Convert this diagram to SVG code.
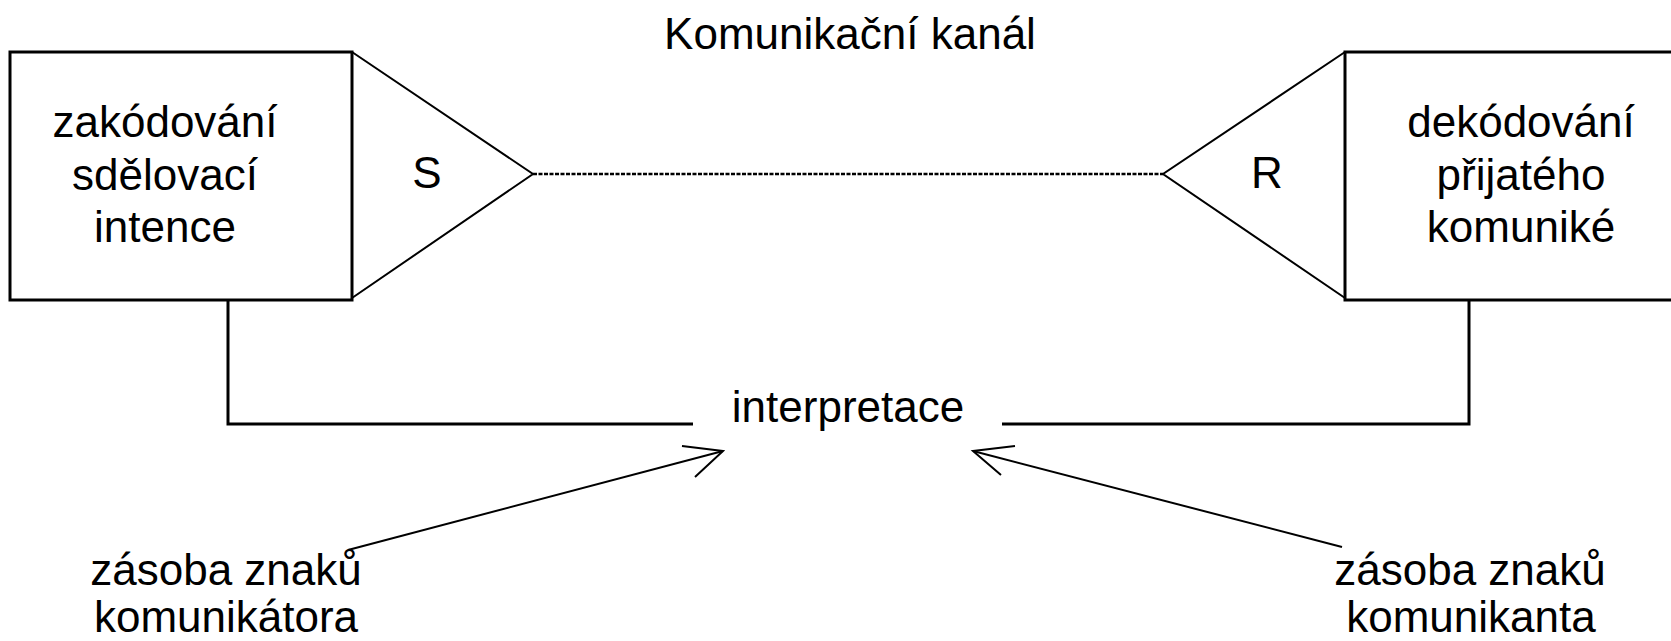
<svg xmlns="http://www.w3.org/2000/svg" width="1671" height="641" viewBox="0 0 1671 641">
<defs>
<style>
text{font-family:"Liberation Sans",Arial,sans-serif;font-size:44px;fill:#000;text-anchor:middle}
.box{fill:#fff;stroke:#000;stroke-width:3}
.thick{fill:none;stroke:#000;stroke-width:3}
.thin{fill:none;stroke:#000;stroke-width:2}
.chan{fill:none;stroke:#000;stroke-width:2.5;stroke-dasharray:4 1.5}
</style>
</defs>
<rect width="1671" height="641" fill="#fff"/>
<text x="850" y="49">Komunikační kanál</text>
<g id="connectors">
<line class="chan" x1="533" y1="174" x2="1163" y2="174"/>
<polyline class="thick" points="228,300 228,424 693,424"/>
<polyline class="thick" points="1469,300 1469,424 1002,424"/>
<polyline class="thin" points="348,550 723,451"/>
<polyline class="thin" points="682,446 723,451 695,477"/>
<polyline class="thin" points="1342,547 973,451"/>
<polyline class="thin" points="1015,446 973,451 1001,475"/>
</g>
<g id="sender">
<rect class="box" x="10" y="52" width="342" height="248"/>
<text x="165" y="137">zakódování</text>
<text x="165" y="190">sdělovací</text>
<text x="165" y="242">intence</text>
</g>
<g id="S">
<polyline class="thin" points="352,52 533,174 352,298"/>
<text x="427" y="188">S</text>
</g>
<g id="receiver">
<rect class="box" x="1345" y="52" width="340" height="248"/>
<text x="1521" y="137">dekódování</text>
<text x="1521" y="190">přijatého</text>
<text x="1521" y="242">komuniké</text>
</g>
<g id="R">
<polyline class="thin" points="1345,52 1163,174 1345,298"/>
<text x="1267" y="188">R</text>
</g>
<g id="interpretace">
<text x="848" y="422">interpretace</text>
</g>
<g id="zasoba-komunikatora">
<text x="226" y="585">zásoba znaků</text>
<text x="226" y="632">komunikátora</text>
</g>
<g id="zasoba-komunikanta">
<text x="1470" y="585">zásoba znaků</text>
<text x="1471" y="632">komunikanta</text>
</g>
</svg>
